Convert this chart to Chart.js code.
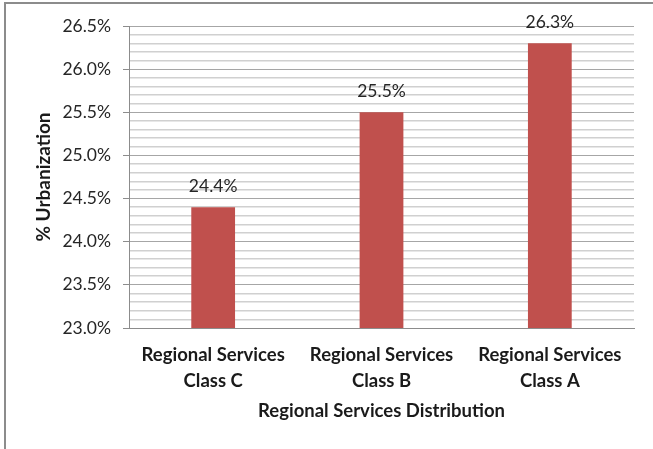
<!DOCTYPE html>
<html>
<head>
<meta charset="utf-8">
<script src="https://cdn.jsdelivr.net/npm/chart.js@4/dist/chart.umd.min.js"></script>
<style>
html,body{margin:0;padding:0;background:#fff;}
#wrap{width:653px;height:449px;position:relative;}
</style>
</head>
<body>
<div id="wrap"><canvas id="c" width="653" height="449"></canvas></div>
<script>
const categories = [["Regional Services","Class C"],["Regional Services","Class B"],["Regional Services","Class A"]];
const urbanization = [24.4, 25.5, 26.3];
const yMin = 23.0, yMax = 26.5, yStep = 0.1;
const xTitle = "Regional Services Distribution";
const yTitle = "% Urbanization";

const FONT = "Lato, 'Open Sans', sans-serif";
const isMajor = v => Math.abs(v * 2 - Math.round(v * 2)) < 1e-6;

const framePlugin = {
  id: 'frame',
  beforeDraw(chart) {
    const ctx = chart.ctx;
    ctx.save();
    ctx.fillStyle = '#fff';
    ctx.fillRect(0, 0, chart.width, chart.height);
    ctx.strokeStyle = '#8c8c8c';
    ctx.lineWidth = 2;
    ctx.beginPath();
    ctx.moveTo(5, chart.height);
    ctx.lineTo(5, 3);
    ctx.lineTo(chart.width, 3);
    ctx.stroke();
    ctx.restore();
  }
};

const labelPlugin = {
  id: 'barLabels',
  afterDatasetsDraw(chart) {
    const ctx = chart.ctx;
    const meta = chart.getDatasetMeta(0);
    ctx.save();
    ctx.font = "17.5px " + FONT;
    ctx.fillStyle = '#262626';
    ctx.textAlign = 'center';
    ctx.textBaseline = 'middle';
    meta.data.forEach((bar, i) => {
      const v = chart.data.datasets[0].data[i];
      ctx.fillText(v.toFixed(1) + '%', bar.x, bar.y - 21);
    });
    ctx.restore();
  }
};

new Chart(document.getElementById('c'), {
  type: 'bar',
  data: {
    labels: categories,
    datasets: [{
      data: urbanization,
      backgroundColor: '#C0504D',
      borderWidth: 0,
      barPercentage: 0.26,
      categoryPercentage: 1.0
    }]
  },
  options: {
    responsive: false,
    animation: false,
    layout: { padding: { left: 5, top: 26, right: 19, bottom: 0 } },
    plugins: { legend: { display: false }, tooltip: { enabled: false } },
    scales: {
      x: {
        grid: { display: false, drawTicks: false },
        border: { color: '#8c8c8c', width: 1 },
        ticks: {
          color: '#1a1a1a',
          font: { family: FONT, size: 18.5, weight: 'bold', lineHeight: 1.4 },
          padding: 14,
          maxRotation: 0,
          autoSkip: false
        },
        title: {
          display: true,
          text: xTitle,
          color: '#1a1a1a',
          font: { family: FONT, size: 18.5, weight: 'bold' },
          padding: { top: 8, bottom: 27 }
        },
        afterFit(scale) { scale.height = 449 - 328; }
      },
      y: {
        min: yMin,
        max: yMax,
        border: { color: '#8c8c8c', width: 1 },
        grid: {
          color: ctx => isMajor(ctx.tick.value) ? '#a6a6a6' : '#d0d0d0',
          lineWidth: ctx => isMajor(ctx.tick.value) ? 1 : 1.5,
          tickColor: ctx => isMajor(ctx.tick.value) ? '#8c8c8c' : 'rgba(0,0,0,0)',
          tickLength: 6
        },
        ticks: {
          stepSize: yStep,
          autoSkip: false,
          color: '#262626',
          font: { family: FONT, size: 17.5 },
          padding: 12,
          callback: v => isMajor(v) ? v.toFixed(1) + '%' : ''
        },
        title: {
          display: true,
          text: yTitle,
          color: '#1a1a1a',
          font: { family: FONT, size: 19, weight: 'bold' },
          padding: { top: 27, bottom: 0 }
        },
        afterFit(scale) { scale.width = 129 - 5; }
      }
    }
  },
  plugins: [framePlugin, labelPlugin]
});
</script>
</body>
</html>
